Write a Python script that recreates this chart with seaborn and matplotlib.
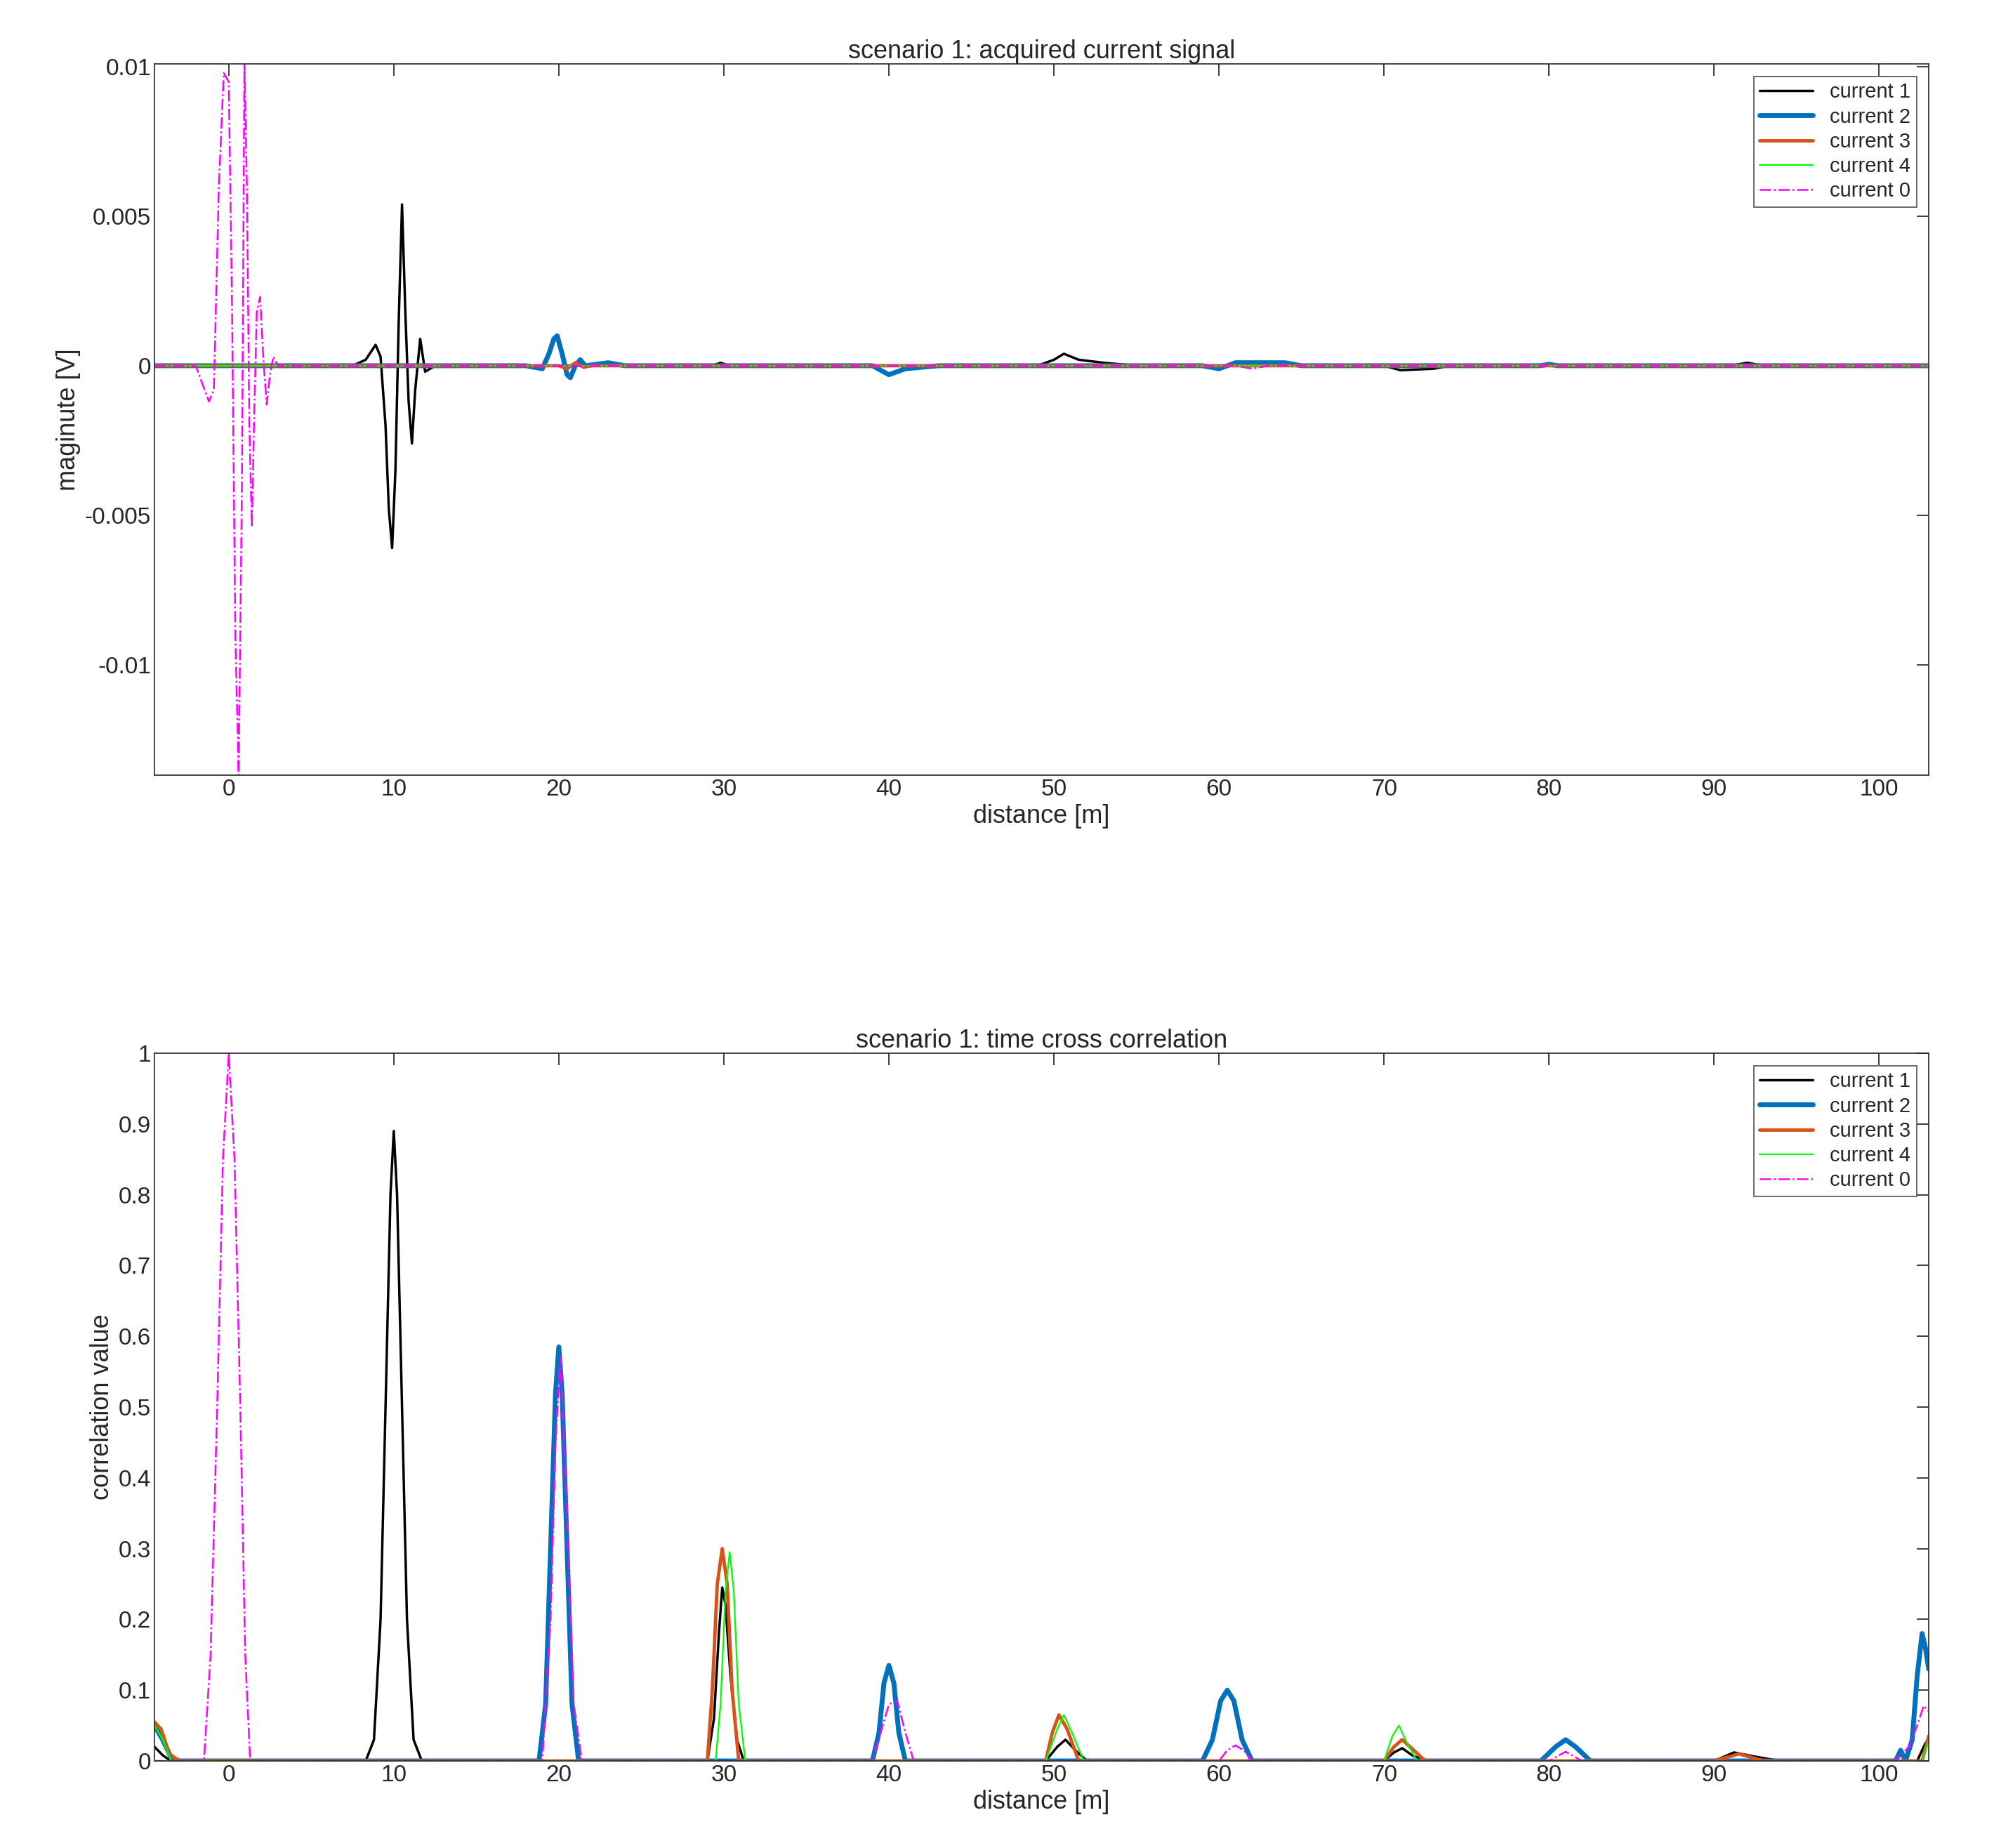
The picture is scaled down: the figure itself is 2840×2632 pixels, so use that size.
import numpy as np
import matplotlib
matplotlib.use("Agg")
import matplotlib.pyplot as plt
import seaborn as sns

sns.set_theme(style="white")
plt.rcParams['font.family'] = ['Liberation Sans', 'DejaVu Sans']

# ---- top: acquired current signal (distance, value) ----
sig1_x = [-4.5, 7.5, 8.3, 8.9, 9.2, 9.5, 9.7, 9.9, 10.1, 10.3, 10.5, 10.7, 10.9, 11.1, 11.3, 11.6, 11.9, 12.2, 12.5, 29.3, 29.8, 30.3, 49, 50, 50.6, 51.5, 53, 55, 70, 71, 73, 74, 91, 92, 93, 103]
sig1_y = [0, 0, 0.0002, 0.0007, 0.0003, -0.002, -0.0048, -0.0061, -0.0035, 0.0015, 0.0054, 0.0018, -0.0012, -0.0026, -0.0008, 0.0009, -0.0002, -0.0001, 0, 0, 0.0001, 0, 0, 0.0002, 0.0004, 0.0002, 0.0001, 0, 0, -0.00015, -0.0001, 0, 0, 0.0001, 0, 0]
sig2_x = [-4.5, 18, 19, 19.4, 19.7, 19.9, 20.2, 20.5, 20.7, 21.0, 21.3, 21.6, 23, 24, 39, 40, 41, 43, 59, 60, 61, 64, 65, 79.5, 80, 80.5, 103]
sig2_y = [0, 0, -0.0001, 0.0004, 0.0009, 0.001, 0.0004, -0.0003, -0.0004, 0, 0.0002, 0, 0.0001, 0, 0, -0.0003, -0.0001, 0, 0, -0.0001, 0.0001, 0.0001, 0, 0, 0.00005, 0, 0]
sig3_x = [-4.5, 20, 20.5, 21, 21.5, 22, 103]
sig3_y = [0, 0, -0.0001, 0.0001, -0.00005, 0, 0]
sig4_x = [-4.5, 103]
sig4_y = [0, 0]
sig0_x = [-4.5, -2, -1.6, -1.2, -0.9, -0.6, -0.3, 0, 0.2, 0.4, 0.6, 0.8, 0.95, 1.1, 1.25, 1.4, 1.55, 1.7, 1.9, 2.1, 2.3, 2.5, 2.7, 3.0, 61, 62, 63, 103]
sig0_y = [0, 0, -0.0006, -0.0012, -0.0008, 0.006, 0.0098, 0.0095, 0.002, -0.009, -0.0137, -0.004, 0.0101, 0.006, -0.002, -0.0054, -0.0015, 0.0018, 0.0023, 0.0002, -0.0013, -0.0003, 0.0003, 0, 0, -0.0001, 0, 0]

# ---- bottom: time cross correlation ----
cor1_x = [-4.5, -4, -3.5, 8.3, 8.8, 9.2, 9.5, 9.8, 10, 10.2, 10.5, 10.8, 11.2, 11.7, 29, 29.4, 29.7, 29.9, 30.1, 30.4, 30.8, 31.2, 49.5, 50.2, 50.7, 51.3, 52, 70, 70.6, 71.1, 71.7, 72.5, 90, 91.2, 92.5, 94, 102.3, 102.8, 103]
cor1_y = [0.02, 0.008, 0, 0, 0.03, 0.2, 0.5, 0.8, 0.89, 0.8, 0.5, 0.2, 0.03, 0, 0, 0.06, 0.18, 0.245, 0.22, 0.12, 0.03, 0, 0, 0.02, 0.03, 0.015, 0, 0, 0.012, 0.018, 0.008, 0, 0, 0.012, 0.006, 0, 0, 0.025, 0.03]
cor2_x = [-4.5, -4, -3.5, -3, 18.8, 19.2, 19.5, 19.8, 20, 20.2, 20.5, 20.8, 21.2, 39, 39.4, 39.7, 40, 40.3, 40.6, 41, 59, 59.6, 60.1, 60.5, 60.9, 61.4, 62, 79.5, 80.4, 81, 81.6, 82.5, 101, 101.3, 101.6, 102, 102.3, 102.6, 102.8, 103]
cor2_y = [0.05, 0.03, 0.005, 0, 0, 0.08, 0.3, 0.52, 0.585, 0.52, 0.3, 0.08, 0, 0, 0.04, 0.11, 0.135, 0.11, 0.04, 0, 0, 0.03, 0.085, 0.1, 0.085, 0.03, 0, 0, 0.02, 0.03, 0.02, 0, 0, 0.015, 0, 0.03, 0.12, 0.18, 0.16, 0.13]
cor3_x = [-4.5, -4.1, -3.6, -3, 29, 29.3, 29.6, 29.9, 30.2, 30.5, 30.9, 49.5, 49.9, 50.3, 50.8, 51.5, 70, 70.6, 71.1, 71.8, 72.5, 90, 91.5, 93, 102.6, 103]
cor3_y = [0.055, 0.045, 0.01, 0, 0, 0.1, 0.25, 0.3, 0.25, 0.1, 0, 0, 0.04, 0.065, 0.045, 0, 0, 0.02, 0.03, 0.015, 0, 0, 0.01, 0, 0, 0.035]
cor4_x = [-4.5, -4, -3.5, 29.5, 29.8, 30.1, 30.35, 30.6, 30.9, 31.3, 49.5, 50.2, 50.6, 51.1, 51.8, 70, 70.5, 70.9, 71.4, 72, 102.6, 103]
cor4_y = [0.05, 0.03, 0, 0, 0.08, 0.24, 0.295, 0.24, 0.08, 0, 0, 0.045, 0.065, 0.04, 0, 0, 0.035, 0.05, 0.025, 0, 0, 0.03]
cor0_x = [-4.5, -1.5, -1.1, -0.7, -0.35, 0, 0.35, 0.7, 1.0, 1.3, 19, 19.5, 19.8, 20.1, 20.5, 20.9, 21.4, 39, 39.5, 40, 40.5, 41, 41.5, 60, 60.5, 61, 61.5, 62, 80, 81, 82, 101, 101.8, 102.3, 102.7, 103]
cor0_y = [0, 0, 0.15, 0.5, 0.85, 1.0, 0.85, 0.5, 0.15, 0, 0, 0.2, 0.45, 0.57, 0.35, 0.08, 0, 0, 0.04, 0.08, 0.085, 0.04, 0, 0, 0.015, 0.022, 0.015, 0, 0, 0.013, 0, 0, 0.02, 0.05, 0.078, 0.07]

labels = ["current 1", "current 2", "current 3", "current 4", "current 0"]
colors = ["black", "#0072BD", "#D95319", "#00FF00", "#FF00FF"]
widths = [2.5, 5, 3.5, 1.6, 1.8]
styles = ["-", "-", "-", "-", "-."]

fig = plt.figure(figsize=(28.4, 26.32), dpi=100)
ax1 = fig.add_axes([220/2840, 1-1104/2632, 2527/2840, 1013/2632])
ax2 = fig.add_axes([220/2840, 1-2508/2632, 2527/2840, 1008/2632])

top = [(sig1_x, sig1_y), (sig2_x, sig2_y), (sig3_x, sig3_y), (sig4_x, sig4_y), (sig0_x, sig0_y)]
bot = [(cor1_x, cor1_y), (cor2_x, cor2_y), (cor3_x, cor3_y), (cor4_x, cor4_y), (cor0_x, cor0_y)]

for ax, series in [(ax1, top), (ax2, bot)]:
    for (x, y), lab, c, w, s in zip(series, labels, colors, widths, styles):
        sns.lineplot(x=x, y=y, ax=ax, color=c, lw=w, linestyle=s, label=lab, sort=False, estimator=None)
    ax.set_xlim(-4.5, 103)
    ax.set_xticks(range(0, 101, 10))
    ax.set_xlabel("distance [m]", fontsize=26)
    ax.tick_params(direction="in", labelsize=24, length=12, top=True, right=True)
    for sp in ax.spines.values():
        sp.set_color("#262626"); sp.set_linewidth(1.2)
    leg = ax.legend(loc="upper right", fontsize=21, frameon=True, fancybox=False, edgecolor="#262626",
                    handlelength=2.6, borderaxespad=0.6, labelspacing=0.25, borderpad=0.3)
    leg.get_frame().set_linewidth(1.2)

ax1.set_ylim(-0.0137, 0.0101)
ax1.set_yticks([-0.01, -0.005, 0, 0.005, 0.01])
ax1.set_yticklabels(["-0.01", "-0.005", "0", "0.005", "0.01"])
ax1.set_ylabel("maginute [V]", fontsize=26)
ax1.set_title("scenario 1: acquired current signal", fontsize=26)

ax2.set_ylim(0, 1)
ax2.set_yticks(np.arange(0, 1.01, 0.1))
ax2.set_yticklabels(["0", "0.1", "0.2", "0.3", "0.4", "0.5", "0.6", "0.7", "0.8", "0.9", "1"])
ax2.set_ylabel("correlation value", fontsize=26)
ax2.set_title("scenario 1: time cross correlation", fontsize=26)

fig.savefig("out.png", dpi=100)
